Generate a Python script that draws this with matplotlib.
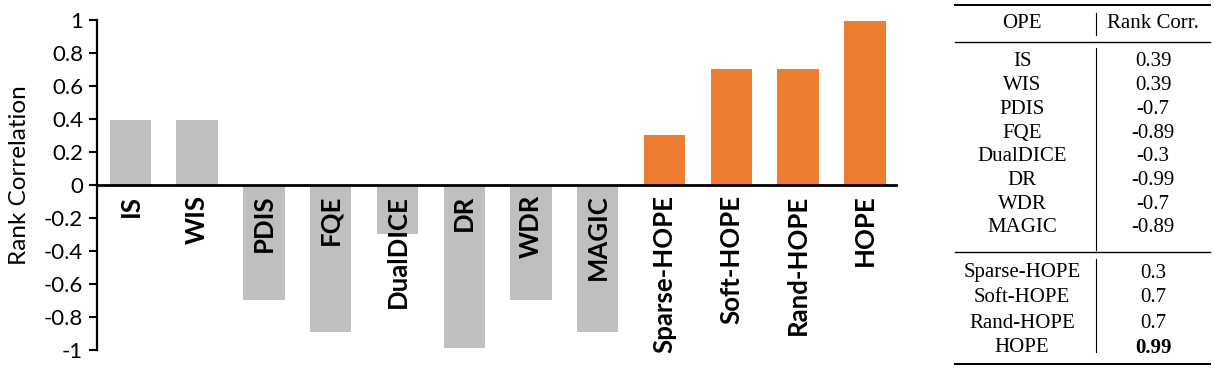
import matplotlib
matplotlib.use("Agg")
import matplotlib.pyplot as plt
from matplotlib.lines import Line2D

# data
methods = ["IS", "WIS", "PDIS", "FQE", "DualDICE", "DR", "WDR", "MAGIC",
           "Sparse-HOPE", "Soft-HOPE", "Rand-HOPE", "HOPE"]
rank_corr = [0.39, 0.39, -0.7, -0.89, -0.3, -0.99, -0.7, -0.89,
             0.3, 0.7, 0.7, 0.99]
corr_labels = ["0.39", "0.39", "-0.7", "-0.89", "-0.3", "-0.99", "-0.7", "-0.89",
               "0.3", "0.7", "0.7", "0.99"]
n_baselines = 8
yticks = [1, 0.8, 0.6, 0.4, 0.2, 0, -0.2, -0.4, -0.6, -0.8, -1]

grey = "#BFBFBF"
orange = "#ED7D31"
colors = [grey] * n_baselines + [orange] * (len(methods) - n_baselines)

plt.rcParams["font.family"] = ["Lato", "DejaVu Sans"]

fig = plt.figure(figsize=(12.14, 3.76), dpi=100)
ax = fig.add_axes([0.0799, 0.0691, 0.66, 0.879])

x = list(range(len(methods)))
ax.bar(x, rank_corr, width=0.62, color=colors, zorder=2)
ax.axhline(0, color="black", lw=2, zorder=3)

ax.set_xlim(-0.5, len(methods) - 0.5)
ax.set_ylim(-1, 1)
ax.set_yticks(yticks)
ax.set_yticklabels([("%g" % t) for t in yticks], fontsize=16)
ax.tick_params(axis="y", length=6, width=1.5, pad=4)
ax.set_xticks([])
for s in ["top", "right", "bottom"]:
    ax.spines[s].set_visible(False)
ax.spines["left"].set_linewidth(1.6)
ax.set_ylabel("Rank Correlation", fontsize=17.5)
ax.yaxis.set_label_coords(-0.083, 0.53)

for xi, name in zip(x, methods):
    ax.text(xi, -0.06, name, rotation=90, ha="center", va="top",
            fontsize=18.5, fontweight="bold", zorder=4)

# table on the right
W, H = 1214.0, 376.0
def fx(px):
    return px / W
def fy(py):
    return 1 - py / H

tfont = ["Liberation Serif", "DejaVu Serif"]
c1, c2 = 1022, 1153
x0, x1 = 955, 1210
for py, lw in [(5, 1.4), (42, 1.0), (252, 1.0), (364, 1.4)]:
    fig.add_artist(Line2D([fx(x0), fx(x1)], [fy(py), fy(py)], color="black", lw=lw))
for ya, yb in [(13, 35), (48, 250), (259, 352)]:
    fig.add_artist(Line2D([fx(1096), fx(1096)], [fy(ya), fy(yb)], color="black", lw=0.8))

fig.text(fx(c1), fy(24), "OPE", ha="center", va="center", fontsize=15, family=tfont)
fig.text(fx(c2), fy(24), "Rank Corr.", ha="center", va="center", fontsize=15, family=tfont)

row_y = [62 + 23.7 * i for i in range(n_baselines)] + \
        [273 + 25 * i for i in range(len(methods) - n_baselines)]
for i, (name, lab) in enumerate(zip(methods, corr_labels)):
    fig.text(fx(c1), fy(row_y[i]), name, ha="center", va="center",
             fontsize=15, family=tfont)
    fig.text(fx(c2), fy(row_y[i]), lab, ha="center", va="center", fontsize=15,
             family=tfont, fontweight="bold" if name == "HOPE" else "normal")

fig.savefig("out.png", dpi=100)
